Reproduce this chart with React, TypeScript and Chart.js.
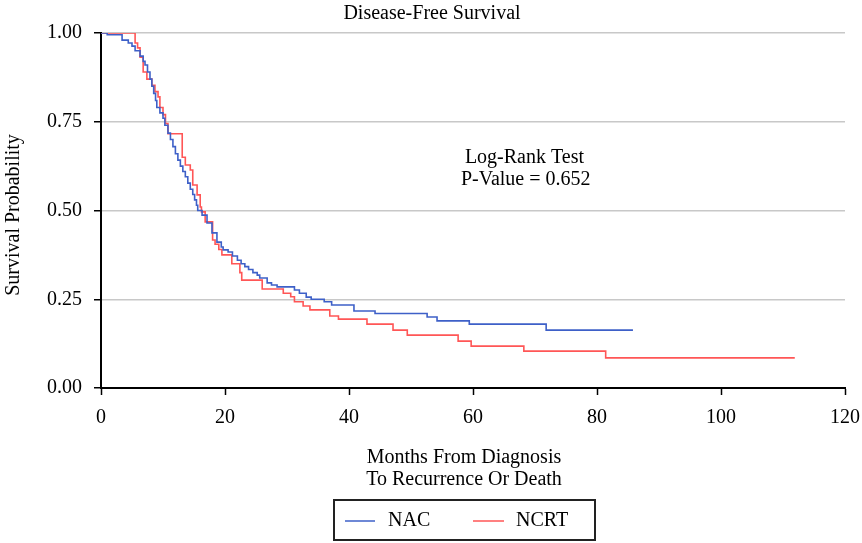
import React, { useEffect, useRef } from "react";
import { Chart, registerables } from "chart.js";

Chart.register(...registerables);

const TITLE = "Disease-Free Survival";
const X_TITLE = ["Months From Diagnosis", "To Recurrence Or Death"];
const Y_TITLE = "Survival Probability";
const ANNOTATION = ["Log-Rank Test", "P-Value = 0.652"];
const SERIES_NAMES = ["NAC", "NCRT"];
const X_TICKS = [0, 20, 40, 60, 80, 100, 120];
const Y_TICKS = [0, 0.25, 0.5, 0.75, 1.0];

const NAC_T = [0, 1.0, 3.4, 4.4, 5.0, 5.5, 6.3, 6.8, 7.1, 7.5, 7.9, 8.2, 8.5, 8.8, 9.0, 9.5, 10.0, 10.3, 10.8, 11.2, 11.6, 12.0, 12.4, 12.8, 13.2, 13.6, 14.0, 14.4, 14.8, 15.1, 15.4, 15.6, 16.3, 17.1, 17.9, 18.7, 19.4, 19.7, 20.5, 21.2, 22.0, 22.6, 23.2, 23.8, 24.5, 25.2, 25.6, 26.8, 27.5, 28.4, 31.2, 32.0, 33.1, 33.9, 36.0, 37.2, 40.8, 44.2, 52.6, 54.2, 59.4, 71.8, 85.8];
const NAC_S = [1.0, 0.995, 0.98, 0.972, 0.963, 0.95, 0.935, 0.92, 0.91, 0.89, 0.87, 0.85, 0.83, 0.81, 0.79, 0.775, 0.76, 0.74, 0.718, 0.70, 0.68, 0.66, 0.642, 0.625, 0.61, 0.595, 0.577, 0.56, 0.545, 0.53, 0.515, 0.50, 0.487, 0.465, 0.437, 0.411, 0.397, 0.389, 0.383, 0.372, 0.36, 0.35, 0.342, 0.334, 0.325, 0.318, 0.31, 0.296, 0.29, 0.285, 0.276, 0.267, 0.256, 0.25, 0.243, 0.234, 0.217, 0.21, 0.20, 0.189, 0.18, 0.163, 0.163];

const NCRT_T = [0, 5.5, 5.9, 6.3, 6.8, 7.4, 8.2, 8.7, 9.2, 9.5, 10.0, 10.4, 10.8, 13.1, 13.6, 14.4, 14.8, 15.5, 16.0, 16.2, 16.8, 18.0, 18.4, 19.0, 19.5, 21.1, 22.4, 22.7, 26.0, 29.4, 30.6, 31.2, 32.6, 33.7, 36.9, 38.3, 42.9, 47.1, 49.4, 57.6, 59.7, 68.2, 81.4, 111.9];
const NCRT_S = [1.0, 0.972, 0.958, 0.932, 0.89, 0.87, 0.853, 0.835, 0.82, 0.79, 0.77, 0.745, 0.716, 0.65, 0.628, 0.614, 0.572, 0.544, 0.51, 0.496, 0.468, 0.417, 0.405, 0.39, 0.375, 0.35, 0.325, 0.304, 0.279, 0.267, 0.257, 0.243, 0.231, 0.22, 0.203, 0.194, 0.18, 0.163, 0.149, 0.132, 0.118, 0.104, 0.085, 0.085];

const COLORS = ["rgb(62,96,200)", "rgb(255,86,86)"];
const FONT = '"Liberation Serif", "Times New Roman", serif';

function pts(t: number[], s: number[]) {
  return t.map((x, i) => ({ x, y: s[i] }));
}

const textPlugin = {
  id: "customTexts",
  afterDraw(chart: any) {
    const ctx = chart.ctx;
    const xs = chart.scales.x;
    const ys = chart.scales.y;
    ctx.save();
    ctx.fillStyle = "#000";
    ctx.textAlign = "center";
    ctx.textBaseline = "middle";
    ctx.font = `20px ${FONT}`;
    ctx.fillText(TITLE, 432, 14);
    ctx.fillText(X_TITLE[0], 464, 458);
    ctx.fillText(X_TITLE[1], 464, 480);
    ctx.fillText(ANNOTATION[0], xs.getPixelForValue(68.3), ys.getPixelForValue(0.648));
    ctx.fillText(ANNOTATION[1], xs.getPixelForValue(68.5), ys.getPixelForValue(0.588));
    ctx.save();
    ctx.translate(14, 215);
    ctx.rotate(-Math.PI / 2);
    ctx.fillText(Y_TITLE, 0, 0);
    ctx.restore();
    // legend box
    ctx.strokeStyle = "#222";
    ctx.lineWidth = 2;
    ctx.strokeRect(334, 500, 261, 40);
    ctx.lineWidth = 1.5;
    ctx.strokeStyle = COLORS[0];
    ctx.beginPath();
    ctx.moveTo(345, 521);
    ctx.lineTo(375, 521);
    ctx.stroke();
    ctx.strokeStyle = COLORS[1];
    ctx.beginPath();
    ctx.moveTo(473, 521);
    ctx.lineTo(504, 521);
    ctx.stroke();
    ctx.textAlign = "left";
    ctx.fillText(SERIES_NAMES[0], 388, 521);
    ctx.fillText(SERIES_NAMES[1], 516, 521);
    ctx.restore();
  },
};

export default function App() {
  const ref = useRef<HTMLCanvasElement>(null);
  useEffect(() => {
    if (!ref.current) return;
    const chart = new Chart(ref.current, {
      type: "line",
      data: {
        datasets: [
          {
            label: SERIES_NAMES[0],
            data: pts(NAC_T, NAC_S),
            borderColor: COLORS[0],
            borderWidth: 1.6,
            pointRadius: 0,
            stepped: "before",
            fill: false,
          },
          {
            label: SERIES_NAMES[1],
            data: pts(NCRT_T, NCRT_S),
            borderColor: COLORS[1],
            borderWidth: 1.6,
            pointRadius: 0,
            stepped: "before",
            fill: false,
          },
        ],
      },
      options: {
        responsive: false,
        animation: false,
        devicePixelRatio: 1,
        parsing: false as any,
        layout: { padding: { top: 33, right: 17, left: 0, bottom: 0 } },
        plugins: {
          legend: { display: false },
          title: { display: false },
          tooltip: { enabled: false },
        },
        scales: {
          x: {
            type: "linear",
            min: 0,
            max: 120,
            afterBuildTicks: (s: any) => {
              s.ticks = X_TICKS.map((v) => ({ value: v }));
            },
            afterFit: (s: any) => {
              s.height = 155;
              s.paddingLeft = 0;
              s.paddingRight = 0;
              s.paddingTop = 0;
              s.paddingBottom = 0;
            },
            ticks: {
              color: "#000",
              font: { family: FONT, size: 20 },
              padding: 11,
              maxRotation: 0,
              autoSkip: false,
            },
            grid: {
              drawOnChartArea: false,
              drawTicks: true,
              tickLength: 7,
              tickColor: "#000",
              tickWidth: 1.5,
            },
            border: { color: "#000", width: 2 },
          },
          y: {
            type: "linear",
            min: 0,
            max: 1,
            afterBuildTicks: (s: any) => {
              s.ticks = Y_TICKS.map((v) => ({ value: v }));
            },
            afterFit: (s: any) => {
              s.width = 101;
              s.paddingLeft = 0;
              s.paddingRight = 0;
              s.paddingTop = 0;
              s.paddingBottom = 0;
            },
            ticks: {
              color: "#000",
              font: { family: FONT, size: 20 },
              padding: 12,
              callback: (v: any) => Number(v).toFixed(2),
            },
            grid: {
              color: "#c8c8c8",
              lineWidth: 1.5,
              drawTicks: true,
              tickLength: 7,
              tickColor: "#000",
              tickWidth: 1.5,
            },
            border: { color: "#000", width: 2 },
          },
        },
      },
      plugins: [textPlugin],
    });
    return () => chart.destroy();
  }, []);
  return (
    <div style={{ position: "fixed", left: 0, top: 0, width: 862, height: 543, background: "#fff" }}>
      <canvas ref={ref} width={862} height={543} style={{ width: 862, height: 543, display: "block" }} />
    </div>
  );
}
